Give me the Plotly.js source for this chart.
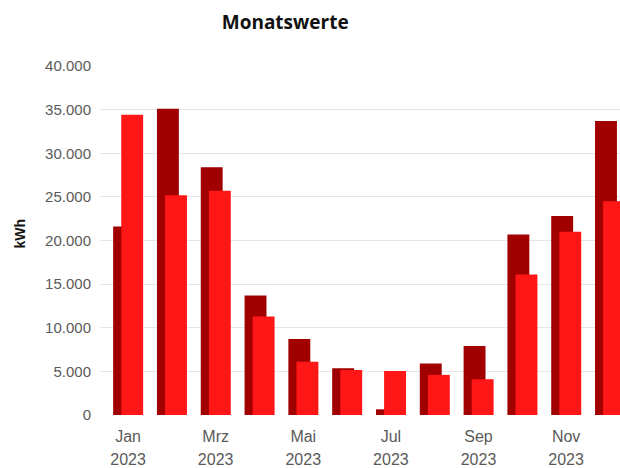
<!DOCTYPE html>
<html>
<head>
<meta charset="utf-8">
<script src="https://cdn.plot.ly/plotly-3.0.1.min.js"></script>
<style>html,body{margin:0;padding:0;background:#fff;}#chart{width:620px;height:468px;}</style>
</head>
<body>
<div id="chart"></div>
<script>
// Data
const months = ["Jan 2023","Feb 2023","Mrz 2023","Apr 2023","Mai 2023","Jun 2023","Jul 2023","Aug 2023","Sep 2023","Okt 2023","Nov 2023","Dez 2023"];
const seriesDark = [21600, 35100, 28400, 13700, 8700, 5350, 650, 5900, 7900, 20700, 22800, 33700];
const seriesBright = [34400, 25200, 25700, 11300, 6100, 5150, 5050, 4600, 4100, 16100, 21000, 24500];
const tickMonths = ["Jan 2023","Mrz 2023","Mai 2023","Jul 2023","Sep 2023","Nov 2023"];
const tickMonthText = ["Jan","Mrz","Mai","Jul","Sep","Nov"];
const tickYearText = ["2023","2023","2023","2023","2023","2023"];
const yTicks = [0,5000,10000,15000,20000,25000,30000,35000,40000];
const yTickText = ["0","5.000","10.000","15.000","20.000","25.000","30.000","35.000","40.000"];

const traces = [
  {type:'bar', x: months, y: seriesDark, name:'Vorjahr', offset:-0.34, width:0.5,
   marker:{color:'#a00000', line:{width:0}}, hoverinfo:'x+y'},
  {type:'bar', x: months, y: seriesBright, name:'Aktuell', offset:-0.155, width:0.5,
   marker:{color:'#ff1616', line:{width:0}}, hoverinfo:'x+y'},
  {type:'bar', x: months, y: months.map(()=>null), xaxis:'x2', showlegend:false, hoverinfo:'skip'}
];

const xRange = [-0.64, 11.23];
const layout = {
  width:620, height:468,
  margin:{l:100, r:0, t:66, b:53},
  paper_bgcolor:'#fff', plot_bgcolor:'#fff',
  barmode:'overlay',
  showlegend:false,
  title:{text:'Monatswerte', x:0.46, xref:'container', xanchor:'center', y:0.952, yref:'container', yanchor:'middle',
         font:{family:'Open Sans, sans-serif', size:19, color:'#111', weight:'bold'}},
  font:{family:'Liberation Sans, Arial, sans-serif'},
  xaxis:{type:'category', categoryarray: months, range: xRange, tickvals: tickMonths, ticktext: tickMonthText,
         showgrid:false, zeroline:false, showline:false, ticks:'', ticklabelstandoff:10,
         tickfont:{size:16, color:'#5a5a5a'}},
  xaxis2:{type:'category', categoryarray: months, overlaying:'x', side:'bottom', anchor:'y', range: xRange,
          tickvals: tickMonths, ticktext: tickYearText,
          showgrid:false, zeroline:false, showline:false, ticks:'', ticklabelstandoff:33,
          tickfont:{size:16, color:'#5a5a5a'}},
  yaxis:{range:[0,40000], tickvals: yTicks, ticktext: yTickText, showgrid:true, gridcolor:'#e5e5e5', gridwidth:1,
         zeroline:false, showline:false, ticks:'', ticklabelstandoff:8,
         tickfont:{size:15, color:'#5a5a5a'}},
  annotations:[{text:'kWh', textangle:-90, xref:'paper', yref:'paper', x:-0.154, y:0.52,
                xanchor:'center', yanchor:'middle', showarrow:false,
                font:{family:'Liberation Sans, Arial, sans-serif', size:14, color:'#111', weight:'bold'}}]
};

Plotly.newPlot('chart', traces, layout, {displayModeBar:false, staticPlot:true});
</script>
</body>
</html>
